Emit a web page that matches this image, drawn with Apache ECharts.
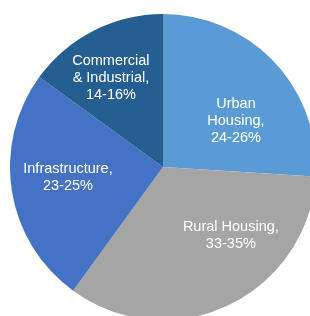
<!DOCTYPE html>
<html>
<head>
<meta charset="utf-8">
<script src="https://cdn.jsdelivr.net/npm/echarts@6/dist/echarts.min.js"></script>
<style>
html,body{margin:0;padding:0;background:#fff;}
#chart{width:310px;height:316px;}
</style>
</head>
<body>
<div id="chart"></div>
<script>
const categories = ['Urban Housing', 'Rural Housing', 'Infrastructure', 'Commercial & Industrial'];
const rangeLabels = ['24-26%', '33-35%', '23-25%', '14-16%'];
const labelNames = ['Urban\nHousing,', 'Rural Housing,', 'Infrastructure,', 'Commercial\n& Industrial,'];
const values = [26, 34, 25, 15];
const colors = ['#5B9BD5', '#A5A5A5', '#4472C4', '#255E91'];
const labelShift = [[15, 8], [34, -3.5], [-16.5, -1.5], [-16, -18.5]];

const chart = echarts.init(document.getElementById('chart'), null, {renderer: 'canvas'});
chart.setOption({
  animation: false,
  backgroundColor: '#ffffff',
  series: [{
    type: 'pie',
    center: [163, 167],
    radius: 153,
    startAngle: 90,
    clockwise: true,
    avoidLabelOverlap: false,
    itemStyle: {borderWidth: 0},
    label: {
      show: true,
      position: 'inside',
      color: '#ffffff',
      fontFamily: 'Liberation Sans, Arial, sans-serif',
      fontSize: 14.5,
      lineHeight: 17,
      align: 'center',
      formatter: p => labelNames[p.dataIndex] + '\n' + rangeLabels[p.dataIndex]
    },
    labelLayout: p => ({dx: labelShift[p.dataIndex][0], dy: labelShift[p.dataIndex][1]}),
    data: categories.map((c, i) => ({name: c, value: values[i], itemStyle: {color: colors[i]}}))
  }]
});
</script>
</body>
</html>
